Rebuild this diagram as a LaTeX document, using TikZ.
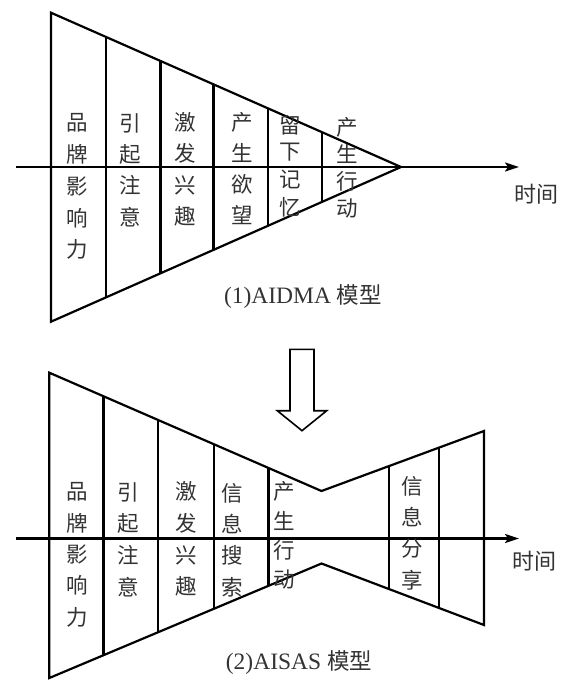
\documentclass[tikz,border=0pt]{standalone}
\usepackage{fontspec}
\setmainfont{Liberation Serif}
\newfontfamily\cjk{Noto Sans CJK SC}
\usetikzlibrary{arrows.meta,calc}
\tikzset{
  edge/.style={line width=2.2pt, line join=miter, draw=black},
  axisline/.style={line width=2.1pt, draw=black, -{Stealth[length=14pt,width=9pt,inset=3pt]}},
  blockarrow/.style={line width=1.6pt, draw=black, line join=miter},
  ch/.style={font=\cjk\fontsize{21.5pt}{21.5pt}\selectfont, inner sep=0pt, text=black!80},
  timelabel/.style={font=\cjk\fontsize{22pt}{22pt}\selectfont, inner sep=0pt, text=black!80},
  capt/.style={font=\fontsize{23.5pt}{24pt}\selectfont, inner sep=0pt, text=black!80}
}
\newcommand\charcol[5]{%
  \foreach \c [count=\i] in {#5} {\node[ch] (#1-\i) at ({#2},{#3+(\i-1)*#4}) {\c};}}
\begin{document}
\begin{tikzpicture}[x=1pt,y=-1pt]
\useasboundingbox (0,0) rectangle (563,680);
% ---------- top: AIDMA ----------
\coordinate (A1) at (51,12.7);
\coordinate (P1) at (401,167);
\coordinate (B1) at (51,321.7);
\draw[edge] (A1) -- (P1) -- (B1) -- cycle;
\foreach \x in {106,160.5,213.5,268.3,322}
  \draw[edge] ($(A1)!{(\x-51)/350}!(P1)$) -- ($(B1)!{(\x-51)/350}!(P1)$);
\coordinate (ax1s) at (16,167);
\coordinate (ax1e) at (519,167);
\draw[axisline] (ax1s) -- (ax1e);
\node[timelabel] (time1) at (536,194) {时间};
\charcol{ca}{77}{123}{31.7}{品,牌,影,响,力}
\charcol{cb}{130}{123}{31.3}{引,起,注,意}
\charcol{cc}{185}{122}{31.6}{激,发,兴,趣}
\charcol{cd}{242}{122}{31.1}{产,生,欲,望}
\charcol{ce}{290}{125}{27.3}{留,下,记,忆}
\charcol{cf}{347}{127}{27}{产,生,行,动}
\node[capt] (cap1) at (303,297) {(1)AIDMA\hspace{0.25em}{\cjk\fontsize{22.5pt}{24pt}\selectfont 模型}};
% ---------- block arrow ----------
\coordinate (k1) at (290,349.3);
\coordinate (k2) at (314,349.3);
\coordinate (k3) at (314,410.7);
\coordinate (k4) at (326.7,410.7);
\coordinate (k5) at (302,430.7);
\coordinate (k6) at (277.3,410.7);
\coordinate (k7) at (290,410.7);
\draw[blockarrow] (k1) -- (k2) -- (k3) -- (k4) -- (k5) -- (k6) -- (k7) -- cycle;
% ---------- bottom: AISAS ----------
\coordinate (A2) at (49.3,372.7);
\coordinate (Q2) at (321.5,491);
\coordinate (R2) at (484,431);
\coordinate (S2) at (484,625);
\coordinate (T2) at (321.5,563.5);
\coordinate (B2) at (49.3,678);
\draw[edge] (A2) -- (Q2) -- (R2) -- (S2) -- (T2) -- (B2) -- cycle;
\foreach \x in {103.5,158.3,214,268.5}
  \draw[edge] ($(A2)!{(\x-49.3)/272.2}!(Q2)$) -- ($(B2)!{(\x-49.3)/272.2}!(T2)$);
\foreach \x in {389,439}
  \draw[edge] ($(Q2)!{(\x-321.5)/162.5}!(R2)$) -- ($(T2)!{(\x-321.5)/162.5}!(S2)$);
\coordinate (ax2s) at (16,538.5);
\coordinate (ax2e) at (519,538.5);
\draw[axisline] (ax2s) -- (ax2e);
\node[timelabel] (time2) at (534,561) {时间};
\charcol{da}{77}{492}{31.25}{品,牌,影,响,力}
\charcol{db}{128.5}{492}{31.6}{引,起,注,意}
\charcol{dc}{186}{491.7}{31.7}{激,发,兴,趣}
\charcol{dd}{232}{493}{31.3}{信,息,搜,索}
\charcol{de}{284}{491.7}{29.4}{产,生,行,动}
\charcol{df}{412}{486}{31.3}{信,息,分,享}
\node[capt] (cap2) at (299,663) {(2)AISAS\hspace{0.25em}{\cjk\fontsize{22.5pt}{24pt}\selectfont 模型}};
\end{tikzpicture}
\end{document}
